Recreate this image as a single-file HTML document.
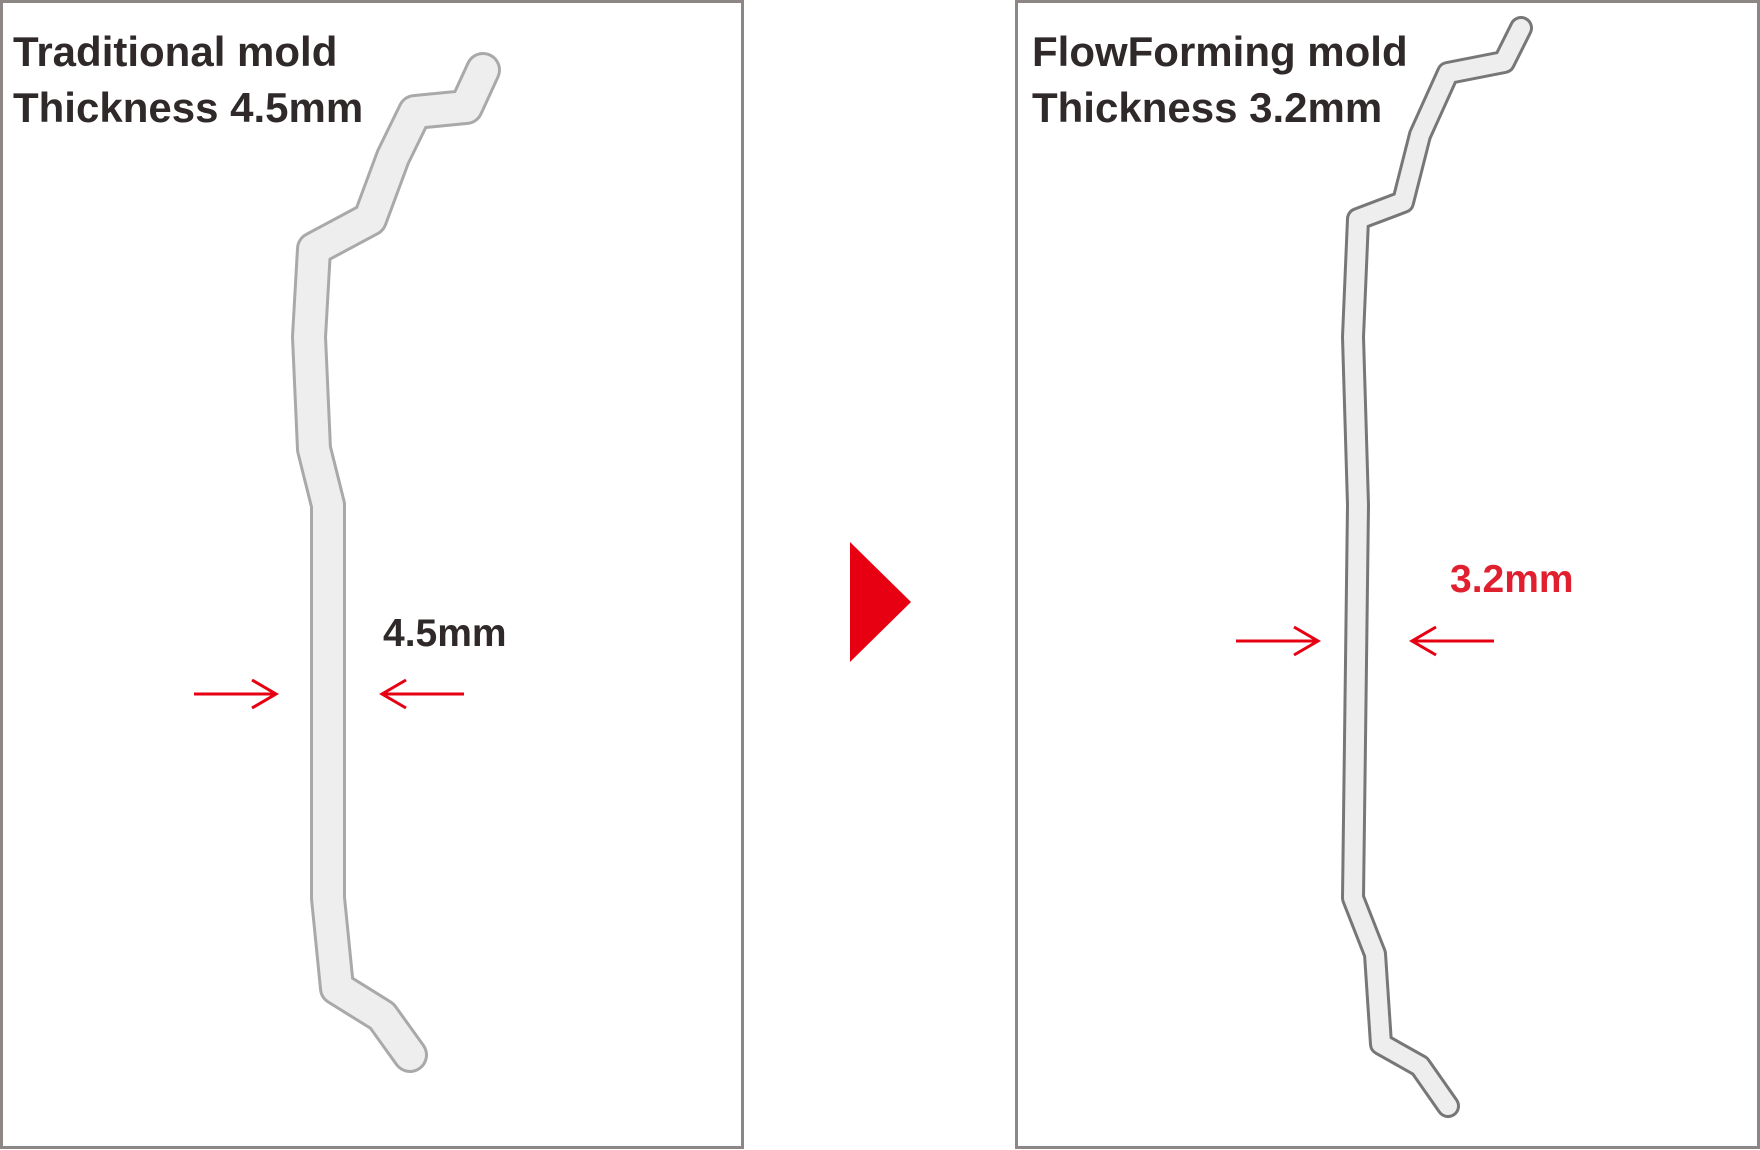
<!DOCTYPE html>
<html><head><meta charset="utf-8"><style>
html,body{margin:0;padding:0;background:#fff;}
body{width:1760px;height:1150px;position:relative;overflow:hidden;font-family:"Liberation Sans",sans-serif;}
.box{position:absolute;border:3px solid #8c8785;box-sizing:border-box;}
.t{position:absolute;font-size:42px;font-weight:bold;color:#2f2a29;line-height:56px;white-space:nowrap;}
</style></head><body>
<div class="box" style="left:0;top:0;width:744px;height:1149px;"></div>
<div class="box" style="left:1015px;top:0;width:745px;height:1149px;"></div>
<div class="t" style="left:13px;top:24px;">Traditional mold<br>Thickness 4.5mm</div>
<div class="t" style="left:1032px;top:24px;">FlowForming mold<br>Thickness 3.2mm</div>
<div class="t" style="left:383px;top:606px;font-size:39px;">4.5mm</div>
<div class="t" style="left:1450px;top:552px;font-size:39px;color:#e0202e;">3.2mm</div>
<svg width="1760" height="1150" style="position:absolute;left:0;top:0">
<polygon points="850,542 911,602 850,662" fill="#e60012"/>
<g fill="none" stroke-linejoin="round" stroke-linecap="round">
<polyline points="483,70 466,107 415,112 393,157 370,219 314,249 309,337 314,449 328,505 328,898 337,988 382,1016 410,1055" stroke="#a9a9a9" stroke-width="36"/>
<polyline points="483,70 466,107 415,112 393,157 370,219 314,249 309,337 314,449 328,505 328,898 337,988 382,1016 410,1055" stroke="#eeeeee" stroke-width="30"/>
<polyline points="1521,28 1504,62 1448,73 1420,135 1403,202 1358,219 1353,337 1358,505 1353,898 1375,954 1381,1044 1420,1066 1448,1106" stroke="#777" stroke-width="24"/>
<polyline points="1521,28 1504,62 1448,73 1420,135 1403,202 1358,219 1353,337 1358,505 1353,898 1375,954 1381,1044 1420,1066 1448,1106" stroke="#eeeeee" stroke-width="18"/>
</g>
<g stroke="#e60012" stroke-width="3" fill="none">
<line x1="194" y1="694" x2="276" y2="694"/><polyline points="252,680 276,694 252,708"/>
<line x1="382" y1="694" x2="464" y2="694"/><polyline points="406,680 382,694 406,708"/>
<line x1="1236" y1="641" x2="1318" y2="641"/><polyline points="1294,627 1318,641 1294,655"/>
<line x1="1412" y1="641" x2="1494" y2="641"/><polyline points="1436,627 1412,641 1436,655"/>
</g>
</svg>
</body></html>
